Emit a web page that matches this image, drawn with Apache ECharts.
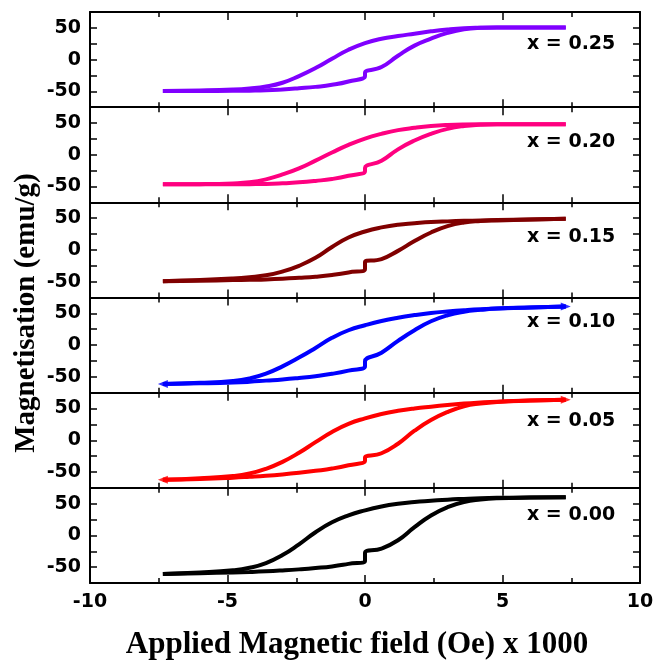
<!DOCTYPE html>
<html>
<head>
<meta charset="utf-8">
<script src="https://cdn.jsdelivr.net/npm/echarts@6/dist/echarts.min.js"></script>
<style>
  html, body { margin: 0; padding: 0; background: #fff; }
  #chart { width: 659px; height: 661px; }
</style>
</head>
<body>
<div id="chart"></div>
<script>
// Applied field grid (kOe), shared by every loop branch
const field = [-7.35, -6, -4.8, -4.2, -3.6, -3.0, -2.4, -1.8, -1.2, -0.6, 0,
               0.6, 1.2, 1.8, 2.4, 3.0, 3.6, 4.2, 4.8, 6, 7.3];

// Sample labels, top panel first
const samples = ['x = 0.25', 'x = 0.20', 'x = 0.15', 'x = 0.10', 'x = 0.05', 'x = 0.00'];

// Descending branch (field swept from +H to -H), emu/g
const desc025 = [-49.5, -48.7, -47.2, -45.5, -42.5, -36.5, -26, -13.4, 1.3, 15.5, 26,
                 32.9, 37.1, 40.8, 44.5, 47.4, 49.4, 50.2, 50.5, 50.5, 50.5];
const desc020 = [-46.6, -46.3, -45.2, -43.5, -38.8, -31, -21.5, -9.2, 3.5, 15.5, 25.5,
                 33, 38.8, 42.5, 45.3, 47, 47.8, 48, 48, 48, 48];
const desc015 = [-49.2, -47.5, -45, -43, -40, -34, -25, -12.5, 4.5, 19.5, 29,
                 35.5, 39.8, 42, 43.9, 45, 45.8, 46.5, 47, 48, 49.2];
const desc010 = [-61.3, -59.5, -56.5, -52.5, -45, -33.5, -19.7, -4.5, 11.5, 23.4, 31.3,
                 38, 43.2, 47.3, 50.6, 53, 55, 56.6, 57.6, 59.3, 60.8];
const desc005 = [-62.4, -60, -56.5, -52.5, -45, -34, -19.7, -3, 13, 25.8, 34.5,
                 41.3, 46.4, 50.2, 53, 55.5, 57.8, 59.5, 60.8, 62.5, 64];
const desc000 = [-60.8, -58.5, -55, -51, -43.5, -31, -14, 5, 20.8, 31.8, 39.5,
                 45.5, 49.8, 52.7, 54.6, 56.4, 57.6, 58.6, 59.2, 59.8, 60.3];

// Ascending branch (field swept from -H to +H), emu/g; value at 0 is just before the step
const asc025 = [-49.7, -49.5, -49.2, -49, -48.5, -47.1, -45.2, -43, -39.8, -34.5, -26,
                -11.8, 6, 22, 33, 42, 47.8, 50, 50.5, 50.5, 50.5];
const asc020 = [-46.6, -46.6, -46.5, -46.3, -46, -45, -43.5, -41.2, -38.2, -33.2, -26,
                -9.5, 8.5, 22.4, 32.9, 40.8, 45.3, 47.3, 48, 48, 48];
const asc015 = [-49.2, -48.5, -47.5, -47, -46.5, -45.5, -44, -42.2, -39.5, -35.5, -30,
                -14.5, -1.5, 14, 27.5, 37.5, 43.2, 45.5, 46.5, 48, 49.2];
const asc010 = [-61.3, -60.3, -59, -57.8, -56, -54.2, -51.8, -49, -45.3, -40.2, -33.5,
                -12, 6.6, 23.4, 37.5, 47, 52.6, 55.5, 57.6, 59.3, 60.8];
const asc005 = [-62.4, -61, -59, -57.6, -56, -53.9, -51.3, -48.2, -44.6, -39.4, -32.4,
                -20.5, -5.5, 15, 31.8, 44.5, 53.5, 58, 60.5, 62.5, 64];
const asc000 = [-60.8, -59.5, -58.3, -57.6, -56.6, -55.2, -53.5, -51.4, -48.8, -44.8, -40.3,
                -20.8, -7.6, 13, 31.5, 44.5, 52.6, 56.5, 58.5, 59.8, 60.3];

// Magnetisation just after the small step at zero field on the ascending branch
const stepTop = [-21, -21, -19.5, -26, -27.5, -27.8];

const descending = [desc025, desc020, desc015, desc010, desc005, desc000];
const ascending = [asc025, asc020, asc015, asc010, asc005, asc000];
const colors = ['#8000ff', '#ff0080', '#800000', '#0000ff', '#ff0000', '#000000'];
// Loops whose sweep ends carry direction arrows
const arrowed = [false, false, false, true, true, false];

const tickFont = 'DejaVu Sans';
const panelTop = 12, panelH = 95.17, leftPx = 90, rightPx = 19;
const labelY = [44, 142, 237, 322, 421, 515];

const grids = [], xAxes = [], yAxes = [], series = [], graphics = [];

samples.forEach((name, i) => {
  grids.push({ left: leftPx, right: rightPx, top: panelTop + i * panelH, height: panelH });
  const isLast = i === samples.length - 1;
  const axisLine = { show: true, onZero: false, lineStyle: { color: '#000', width: 2 } };
  const ticks = { show: true, inside: true, length: 8, lineStyle: { color: '#000', width: 1.5 } };
  const minor = { show: true, splitNumber: 2, length: 5, lineStyle: { color: '#000', width: 1.5 } };
  ['bottom', 'top'].forEach(pos => {
    xAxes.push({
      type: 'value', gridIndex: i, position: pos, min: -10, max: 10, interval: 5,
      axisLine, axisTick: ticks, minorTick: minor, splitLine: { show: false },
      axisLabel: {
        show: isLast && pos === 'bottom', margin: 10, color: '#000',
        fontFamily: tickFont, fontWeight: 'bold', fontSize: 19
      }
    });
  });
  ['left', 'right'].forEach(pos => {
    yAxes.push({
      type: 'value', gridIndex: i, position: pos, min: -75, max: 75, interval: 25,
      axisLine, axisTick: { ...ticks, length: 7 }, splitLine: { show: false },
      axisLabel: {
        show: pos === 'left', margin: 9, color: '#000',
        fontFamily: tickFont, fontWeight: 'bold', fontSize: 19,
        formatter: v => (v % 50 === 0 ? String(v) : '')
      }
    });
  });

  const asc = [];
  field.forEach((h, k) => {
    asc.push([h, ascending[i][k]]);
    if (h === 0) asc.push([0, stepTop[i]]);
  });
  const desc = field.map((h, k) => [h, descending[i][k]]).reverse();
  [desc, asc].forEach(data => {
    series.push({
      type: 'line', xAxisIndex: i * 2, yAxisIndex: i * 2, data,
      smooth: 0.5, showSymbol: false, symbol: 'none', animation: false,
      lineStyle: { color: colors[i], width: 4 }
    });
  });

  if (arrowed[i]) {
    // arrowheads at the two sweep ends
    series.push({
      type: 'scatter', xAxisIndex: i * 2, yAxisIndex: i * 2, animation: false,
      symbol: 'triangle', symbolSize: [8, 10], itemStyle: { color: colors[i] },
      data: [
        { value: desc[desc.length - 1], symbolRotate: 90 },
        { value: asc[asc.length - 1], symbolRotate: -90 }
      ]
    });
  }

  graphics.push({
    type: 'text', x: 527, y: labelY[i],
    style: {
      text: name, font: 'bold 19px "DejaVu Sans"', fill: '#000',
      textAlign: 'left', textVerticalAlign: 'middle'
    }
  });
});

graphics.push({
  type: 'text', x: 27, y: 313, rotation: Math.PI / 2,
  style: {
    text: 'Magnetisation (emu/g)', font: 'bold 29px "Liberation Serif"', fill: '#000',
    textAlign: 'center', textVerticalAlign: 'middle'
  }
});
graphics.push({
  type: 'text', x: 357, y: 645,
  style: {
    text: 'Applied Magnetic field (Oe) x 1000', font: 'bold 31px "Liberation Serif"', fill: '#000',
    textAlign: 'center', textVerticalAlign: 'middle'
  }
});

const chart = echarts.init(document.getElementById('chart'), null, { renderer: 'canvas' });
chart.setOption({
  animation: false,
  backgroundColor: '#fff',
  grid: grids,
  xAxis: xAxes,
  yAxis: yAxes,
  series,
  graphic: graphics
});
</script>
</body>
</html>
